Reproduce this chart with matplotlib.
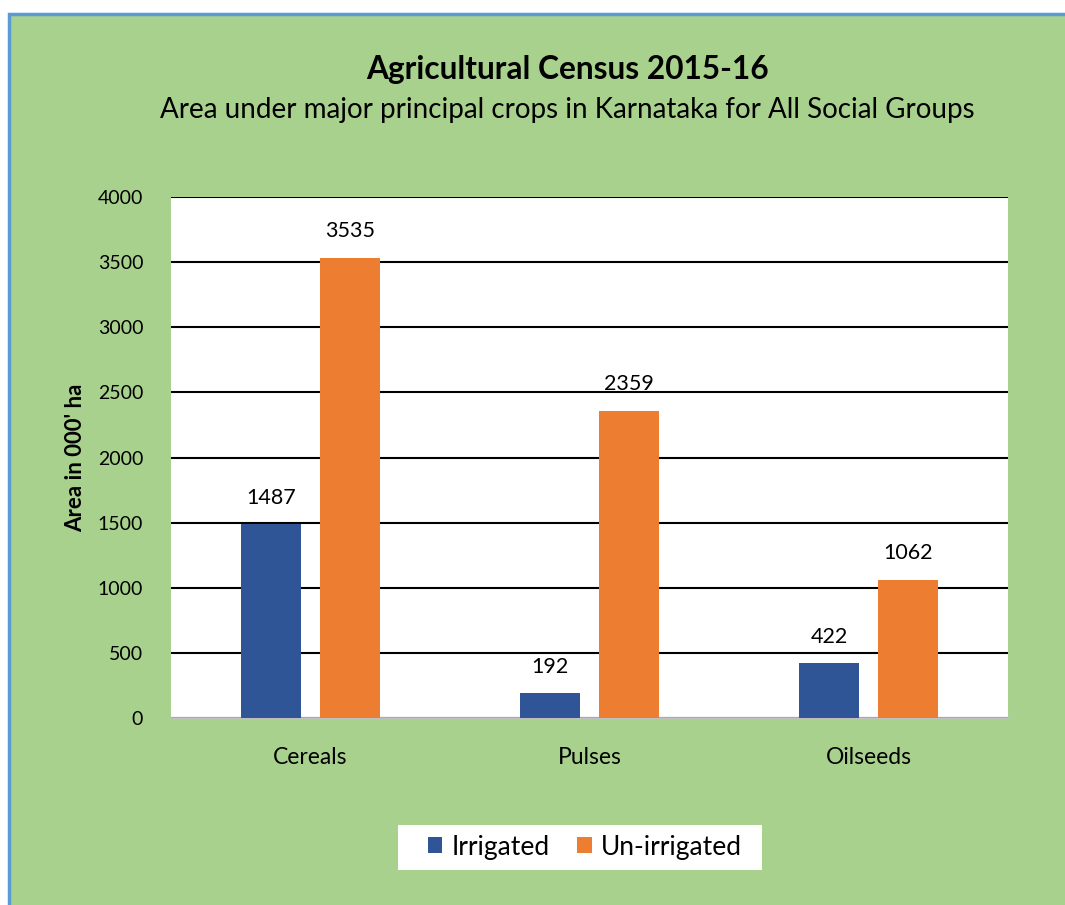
import matplotlib.pyplot as plt
import numpy as np
from matplotlib.patches import Rectangle

crops = ["Cereals", "Pulses", "Oilseeds"]
irrigated = [1487, 192, 422]
unirrigated = [3535, 2359, 1062]
yticks = [0, 500, 1000, 1500, 2000, 2500, 3000, 3500, 4000]

plt.rcParams['font.family'] = ['Lato', 'DejaVu Sans']

fig = plt.figure(figsize=(10.65, 9.05), dpi=100)
fig.patch.set_facecolor("white")

# green chart area with blue border (left/top visible)
fig.patches.append(Rectangle((9 / 1065, -0.02), 1.1, 1 - 14 / 905 + 0.02,
                             transform=fig.transFigure, facecolor="#A9D18E",
                             edgecolor="#5B9BD5", linewidth=2.5, zorder=-5))
# white legend box
fig.patches.append(Rectangle((398 / 1065, 1 - 870 / 905), 364 / 1065, 45 / 905,
                             transform=fig.transFigure, facecolor="white",
                             edgecolor="none", zorder=-4))

ax = fig.add_axes([171 / 1065, 1 - 718 / 905, (1008 - 171) / 1065, (718 - 197) / 905])
ax.set_zorder(2)
ax.set_facecolor("white")

x = np.arange(len(crops))
w = 0.215
off = 0.142
b1 = ax.bar(x - off, irrigated, w, color="#2F5597", label="Irrigated", zorder=3)
b2 = ax.bar(x + off, unirrigated, w, color="#ED7D31", label="Un-irrigated", zorder=3)

for bars in (b1, b2):
    for r in bars:
        ax.text(r.get_x() + r.get_width() / 2, r.get_height() + 125, str(int(r.get_height())),
                ha="center", va="bottom", fontsize=15.5, color="black", zorder=4)

ax.set_xlim(-0.5, 2.5)
ax.set_ylim(0, 4000)
ax.set_yticks(yticks)
ax.set_xticks(x)
ax.set_xticklabels(crops, fontsize=16.5)
ax.tick_params(axis="y", labelsize=14, length=0, pad=20)
ax.tick_params(axis="x", length=0, pad=21)
ax.grid(axis="y", color="black", linewidth=1.5, zorder=1)
for s in ["left", "right", "top"]:
    ax.spines[s].set_visible(False)
ax.spines["bottom"].set_color("#BFBFBF")
ax.spines["bottom"].set_linewidth(2)
ax.set_ylabel("Area in 000' ha", fontsize=16, fontweight="bold", labelpad=8)

fig.text(567 / 1065, 1 - 70 / 905, "Agricultural Census 2015-16", ha="center", va="center",
         fontsize=22.8, fontweight="bold")
fig.text(567 / 1065, 1 - 110 / 905, "Area under major principal crops in Karnataka for All Social Groups",
         ha="center", va="center", fontsize=20)

leg = fig.legend(loc="center", bbox_to_anchor=(585 / 1065, 1 - 847 / 905), ncol=2, fontsize=19,
                 frameon=False, handlelength=0.55, handleheight=0.55, handletextpad=0.35,
                 columnspacing=1.05, borderpad=0, borderaxespad=0)

fig.savefig("out.png", dpi=100)
